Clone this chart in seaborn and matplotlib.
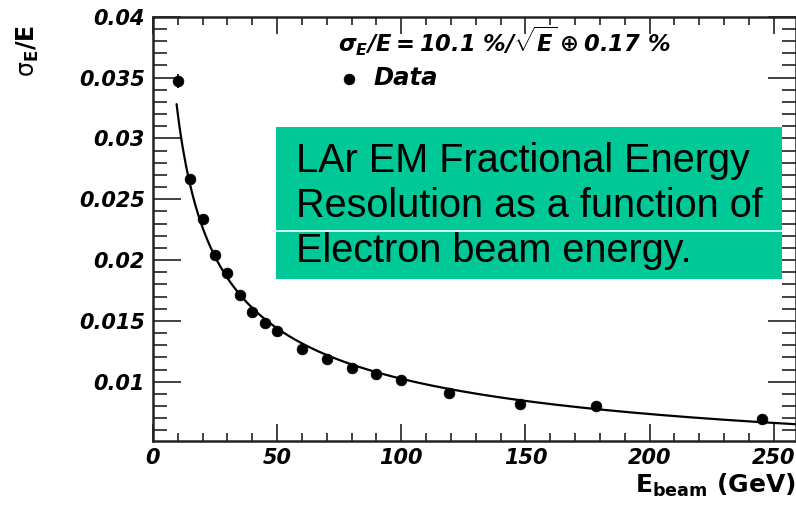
import numpy as np
import pandas as pd
import matplotlib
matplotlib.use("Agg")
import matplotlib.pyplot as plt
from matplotlib.patches import Rectangle
from matplotlib.ticker import MultipleLocator, FormatStrFormatter
import seaborn as sns

# ---- data ----
energy = [10, 15, 20, 25, 30, 35, 40, 45, 50, 60, 70, 80, 90, 100, 119.1, 147.8, 178.6, 245.3]
resolution = [0.0347, 0.0267, 0.0234, 0.0204, 0.0189, 0.0171, 0.0157, 0.0148, 0.0142,
              0.0127, 0.0119, 0.0111, 0.0106, 0.0101, 0.0091, 0.0082, 0.0080, 0.0069]
res_err = [0.0006, 0.0003, 0.0002] + [0.0001] * 15
stochastic_pct = 10.1   # % / sqrt(E)
constant_pct = 0.17     # %
fit_range = [9.5, 260]
y_ticks = [0.01, 0.015, 0.02, 0.025, 0.03, 0.035, 0.04]
x_ticks = [0, 50, 100, 150, 200, 250]
box_lines = ["LAr EM Fractional Energy", "Resolution as a function of", "Electron beam energy."]

sns.set_style("ticks")
plt.rcParams['font.family'] = ['DejaVu Sans']
plt.rcParams['text.color'] = 'black'
plt.rcParams['mathtext.fontset'] = 'custom'
plt.rcParams['mathtext.rm'] = 'DejaVu Sans:bold:italic'
plt.rcParams['mathtext.it'] = 'DejaVu Sans:bold:italic'
plt.rcParams['mathtext.bf'] = 'DejaVu Sans:bold'
plt.rcParams['mathtext.sf'] = 'DejaVu Sans'

W, H = 796, 507
fig = plt.figure(figsize=(W / 100, H / 100), dpi=100)
ax = fig.add_axes([153 / W, 1 - 440.7 / H, (796 - 153) / W, (440.7 - 16.7) / H])

df = pd.DataFrame({"E": energy, "res": resolution, "err": res_err})

# fit curve from the stated parameters
e_fit = np.linspace(fit_range[0], fit_range[1], 400)
fit_df = pd.DataFrame({
    "E": e_fit,
    "res": np.sqrt((stochastic_pct / 100 / np.sqrt(e_fit)) ** 2 + (constant_pct / 100) ** 2),
})
sns.lineplot(data=fit_df, x="E", y="res", ax=ax, color="black", linewidth=1.6, zorder=2)

ax.errorbar(df["E"], df["res"], yerr=df["err"], fmt="none", ecolor="black", elinewidth=1.3, zorder=3)
sns.scatterplot(data=df, x="E", y="res", ax=ax, color="black", s=60, edgecolor="black",
                linewidth=0.5, zorder=4, label="Data")

ax.set_xlim(0, 259)
ax.set_ylim(0.00515, 0.04)
ax.set_xticks(x_ticks)
ax.set_yticks(y_ticks)
ax.yaxis.set_major_formatter(FormatStrFormatter('%g'))
ax.xaxis.set_minor_locator(MultipleLocator(10))
ax.yaxis.set_minor_locator(MultipleLocator(0.001))
ax.tick_params(axis='both', which='both', direction='in', top=True, right=True, width=1.3,
               color='#333333', labelcolor='black')
ax.tick_params(axis='y', which='major', length=20, pad=6)
ax.tick_params(axis='y', which='minor', length=10)
ax.tick_params(axis='x', which='major', length=12, pad=5)
ax.tick_params(axis='x', which='minor', length=6)
for lab in ax.get_xticklabels() + ax.get_yticklabels():
    lab.set_fontsize(15)
    lab.set_fontweight('bold')
    lab.set_fontstyle('italic')
for sp in ax.spines.values():
    sp.set_linewidth(1.8)
    sp.set_color('#222222')
ax.set_xlabel("")
ax.set_ylabel("")

# axis titles
fig.text(796 / W, 1 - 493 / H, r"E$_{\mathbf{beam}}$ (GeV)", ha='right', va='baseline',
         fontsize=18, fontweight='bold', color='black')
fig.text(28 / W, 1 - 25 / H, r"$\mathsf{\sigma}_{\mathbf{E}}$/E", rotation=90, ha='center', va='top',
         fontsize=17, fontweight='bold', color='black')

# legend
fig.text(338 / W, 1 - 51.7 / H, r"$\sigma_E/E = 10.1\ \%/\sqrt{E} \oplus 0.17\ \%$",
         ha='left', va='baseline', fontsize=16.3, color='black')
leg = ax.legend(loc='upper left', bbox_to_anchor=((339 - 153) / (796 - 153), 1 - (66 - 16.7) / (440.7 - 16.7)),
                frameon=False, handletextpad=0.6, borderpad=0, borderaxespad=0, handlelength=0.8,
                prop={'size': 17.5, 'weight': 'bold', 'style': 'italic', 'family': 'DejaVu Sans'})
for t in leg.get_texts():
    t.set_color('black')

# green annotation box
fig.patches.append(Rectangle((276 / W, 1 - 279.3 / H), (782 - 276) / W, (279.3 - 127.3) / H,
                             transform=fig.transFigure, facecolor='#00C896', edgecolor='none', zorder=5))
fig.lines.append(plt.Line2D([276 / W, 782 / W], [1 - 231 / H, 1 - 231 / H], transform=fig.transFigure,
                            color='white', linewidth=1.2, zorder=6))
for i, line in enumerate(box_lines):
    fig.text(296 / W, 1 - (172 + 45 * i) / H, line, ha='left', va='baseline', fontsize=28.5,
             color='black', family='Liberation Sans', zorder=7)

fig.savefig("out.png", dpi=100)
